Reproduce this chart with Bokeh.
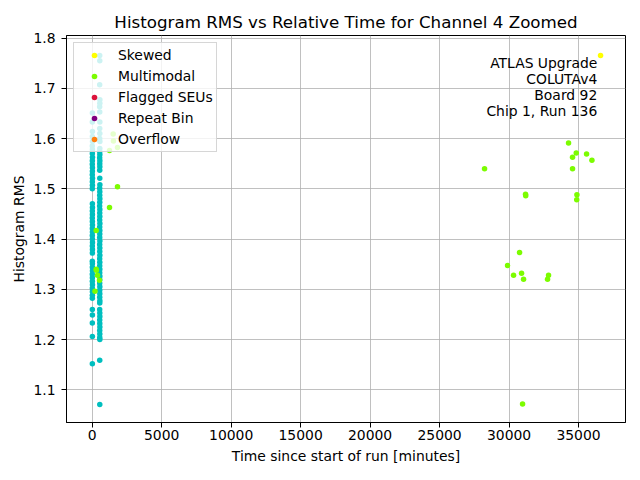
from bokeh.plotting import figure
from bokeh.models import Range1d, FixedTicker, Label, Legend, LegendItem
from bokeh.embed import file_html
from bokeh.resources import INLINE

NAN = float("nan")

# ---- data ----
colA_time = [12, 8, 15, 10, 20, 5, 14, 9, 18, 11, 6, 16, 13, 7, 19, 10, 15, 8,
             12, 17, 9, 14, 6, 11, 18, 10, 15, 7, 13, 20, 9, 16, 12,
             8, 14, 10, 18, 6, 13, 11, 17, 9, 15, 12, 8,
             10, 14, 9, 12, 11]
colA_rms = [1.651, 1.633, 1.614, 1.604, 1.594, 1.585, 1.578, 1.570, 1.563, 1.556,
            1.549, 1.542, 1.535, 1.528, 1.521, 1.514, 1.507, 1.500,
            1.470, 1.463, 1.456, 1.449, 1.442, 1.435, 1.428, 1.421, 1.414, 1.407,
            1.400, 1.393, 1.386, 1.379, 1.372,
            1.356, 1.351, 1.344, 1.337, 1.330, 1.323, 1.316, 1.309, 1.302, 1.295,
            1.288, 1.282,
            1.260, 1.249, 1.233, 1.206, 1.152]

colB_time = [540, 545, 538, 552, 548, 536, 544, 550, 541, 547, 539, 553,
             546, 542, 549, 537, 551, 543, 548, 540, 545, 552, 538, 547,
             541, 550, 544, 536, 549, 543, 546, 539, 553, 542, 548, 545,
             540, 551, 537, 547, 544, 550, 538, 546, 542, 549, 541, 552,
             545, 539, 548, 543, 547, 540, 551, 544, 538, 546, 549, 542,
             545, 550, 541, 547, 543, 548, 540, 545]
colB_rms = [1.765, 1.755, 1.707, 1.677, 1.670, 1.663, 1.653, 1.633, 1.620, 1.610,
            1.600, 1.594, 1.580, 1.574, 1.568, 1.562, 1.556, 1.550, 1.544, 1.537,
            1.521, 1.508, 1.501, 1.494, 1.487, 1.480, 1.473, 1.466, 1.459, 1.452,
            1.445, 1.438, 1.431, 1.424, 1.417, 1.410, 1.403, 1.396, 1.389, 1.382,
            1.375, 1.368, 1.361, 1.354, 1.347, 1.340, 1.333, 1.326, 1.319, 1.312,
            1.305, 1.298, 1.291, 1.284, 1.277, 1.273, 1.260, 1.253, 1.246, 1.239,
            1.232, 1.225, 1.218, 1.211, 1.204, 1.200, 1.159, 1.071]

multimodal_time = [1510, 1530, 1245, 1820, 1820, 1245, 288, 288, 300, 380, 525, 200,
                   28236, 29892, 30324, 30756, 30900, 31044, 30972, 31186, 31200,
                   32770, 32842, 34281, 34569, 34569, 34835, 34883, 34870, 35577, 35964]
multimodal_rms = [1.609, 1.595, 1.576, 1.582, 1.504, 1.463, 1.417, 1.340, 1.338, 1.328, 1.318, 1.296,
                  1.540, 1.3475, 1.328, 1.373, 1.332, 1.320, 1.072, 1.489, 1.486,
                  1.320, 1.328, 1.591, 1.563, 1.540, 1.571, 1.488, 1.478, 1.569, 1.557]

skewed_time = [36584]
skewed_rms = [1.765]

# categories with no points in this zoomed view
flagged_time, flagged_rms = [NAN], [NAN]
repeat_time, repeat_rms = [NAN], [NAN]
overflow_time, overflow_rms = [NAN], [NAN]

x_ticks = [0, 5000, 10000, 15000, 20000, 25000, 30000, 35000]
y_ticks = [1.1, 1.2, 1.3, 1.4, 1.5, 1.6, 1.7, 1.8]
info_lines = ["ATLAS Upgrade", "COLUTAv4", "Board 92", "Chip 1, Run 136"]

FONT = "DejaVu Sans"

p = figure(width=632, height=472, output_backend="svg", toolbar_location=None,
           x_range=Range1d(-1850, 38380), y_range=Range1d(1.035, 1.805),
           min_border_left=66, min_border_right=7, min_border_top=35,
           min_border_bottom=50)

p.title.text = "Histogram RMS vs Relative Time for Channel 4 Zoomed"
p.title.align = "center"
p.title.text_font = FONT
p.title.text_font_size = "16.7px"
p.title.text_font_style = "normal"
p.title.text_color = "black"
p.title.standoff = 7

p.outline_line_color = "black"
p.outline_line_width = 1
p.background_fill_color = "white"

for ax in (p.xaxis[0], p.yaxis[0]):
    ax.axis_line_color = "black"
    ax.major_tick_line_color = "black"
    ax.major_tick_out = 5
    ax.major_tick_in = 0
    ax.minor_tick_out = 0
    ax.minor_tick_in = 0
    ax.major_label_text_font = FONT
    ax.major_label_text_font_size = "13.9px"
    ax.major_label_text_color = "black"
    ax.axis_label_text_font = FONT
    ax.axis_label_text_font_size = "13.9px"
    ax.axis_label_text_font_style = "normal"
    ax.axis_label_text_color = "black"

p.xaxis.major_label_standoff = 2
p.yaxis.major_label_standoff = 6
p.xaxis.ticker = FixedTicker(ticks=x_ticks)
p.yaxis.ticker = FixedTicker(ticks=y_ticks)
p.xaxis.axis_label = "Time since start of run [minutes]"
p.yaxis.axis_label = "Histogram RMS"
p.xaxis.axis_label_standoff = 5
p.yaxis.axis_label_standoff = 3

p.grid.grid_line_color = "#b0b0b0"
p.grid.grid_line_width = 0.8

SIZE = 5.5
r_norm_a = p.scatter(colA_time, colA_rms, size=SIZE, color="#00bfbf", line_width=0)
r_norm_b = p.scatter(colB_time, colB_rms, size=SIZE, color="#00bfbf", line_width=0)
r_mm = p.scatter(multimodal_time, multimodal_rms, size=SIZE, color="#7cfc00", line_width=0)
r_sk = p.scatter(skewed_time, skewed_rms, size=SIZE, color="#ffff00", line_width=0)
r_fl = p.scatter(flagged_time, flagged_rms, size=SIZE, color="#dc143c", line_width=0)
r_rp = p.scatter(repeat_time, repeat_rms, size=SIZE, color="#800080", line_width=0)
r_ov = p.scatter(overflow_time, overflow_rms, size=SIZE, color="#ff7f0e", line_width=0)

legend = Legend(items=[
    LegendItem(label="Skewed", renderers=[r_sk]),
    LegendItem(label="Multimodal", renderers=[r_mm]),
    LegendItem(label="Flagged SEUs", renderers=[r_fl]),
    LegendItem(label="Repeat Bin", renderers=[r_rp]),
    LegendItem(label="Overflow", renderers=[r_ov]),
], location="top_left")
legend.margin = 7
legend.padding = 3
legend.spacing = 3
legend.glyph_height = 14
legend.glyph_width = 34
legend.label_height = 18
legend.label_standoff = 7
legend.label_text_font = FONT
legend.label_text_font_size = "13.9px"
legend.label_text_color = "black"
legend.background_fill_color = "white"
legend.background_fill_alpha = 0.8
legend.border_line_color = "#cccccc"
legend.border_line_alpha = 0.8
p.add_layout(legend)

info_y = [1.750, 1.718, 1.686, 1.655]
for txt, yy in zip(info_lines, info_y):
    p.add_layout(Label(x=36347, y=yy, text=txt, text_align="right",
                       text_baseline="middle", text_font=FONT,
                       text_font_size="13.9px", text_color="black"))

open("out.html", "w").write(file_html(p, INLINE))
